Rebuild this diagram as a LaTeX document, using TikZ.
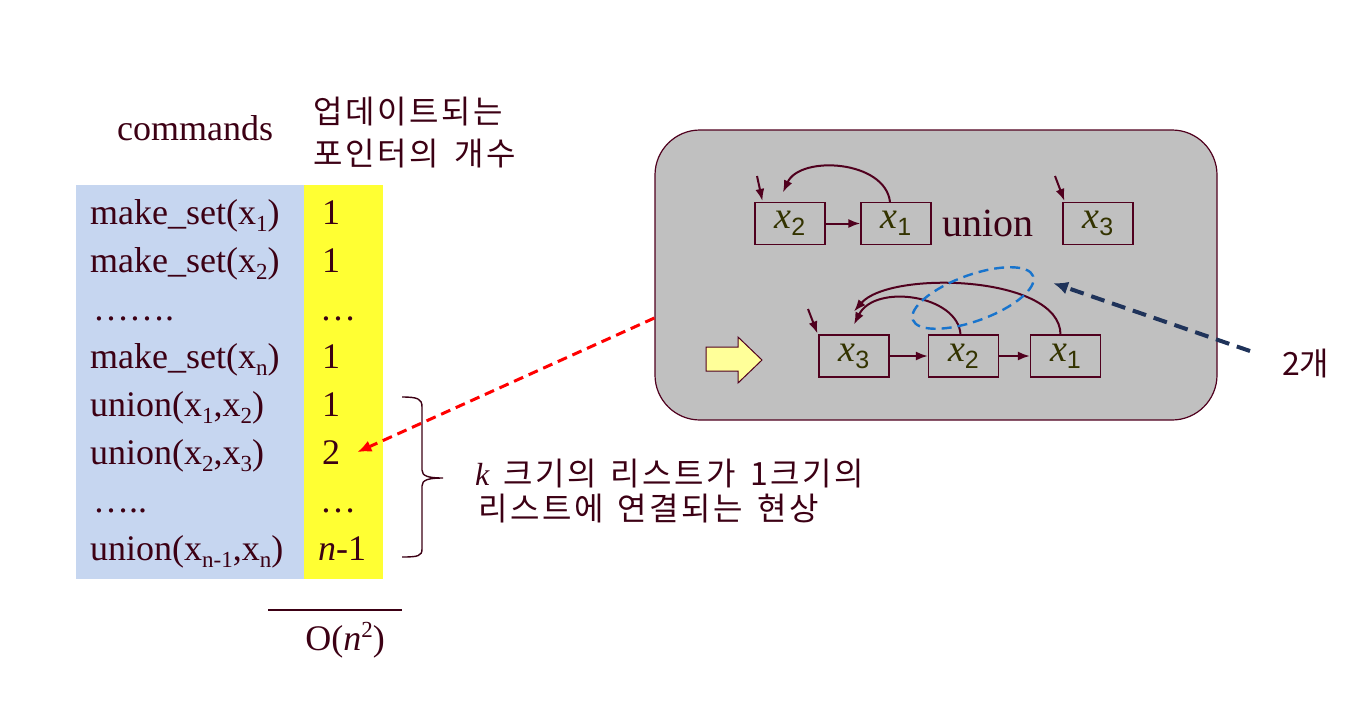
\documentclass[tikz,border=0pt]{standalone}
\usepackage{fontspec}
\setmainfont{Liberation Serif}
\newfontfamily\kor{Noto Sans CJK KR}
\newfontfamily\korw[LetterSpace=8]{Noto Sans CJK KR}
\newfontfamily\sansf{Liberation Sans}
\usetikzlibrary{arrows.meta,shapes.geometric}
\definecolor{txt}{RGB}{60,0,20}
\definecolor{arc}{RGB}{80,0,30}
\definecolor{xol}{RGB}{51,51,0}
\definecolor{tblue}{RGB}{198,214,240}
\definecolor{tyel}{RGB}{255,255,51}
\definecolor{gbg}{RGB}{192,192,192}
\definecolor{blu}{RGB}{24,116,205}
\definecolor{navy}{RGB}{31,51,90}
\definecolor{lyel}{RGB}{255,255,153}
\newcommand\fs[1]{\fontsize{#1}{#1}\selectfont}
\newcommand\sbs[1]{\raisebox{-7pt}{\fs{23}#1}}
\newcommand\xl[1]{{\fs{38}\itshape x}\raisebox{-7pt}{\sansf\fs{25}#1}}
\tikzset{
  cmd/.style={anchor=base west, inner sep=0pt, text=txt, font=\fs{36}},
  kr/.style={anchor=base west, inner sep=0pt, text=txt, font=\kor\fs{32}},
  krw/.style={anchor=base west, inner sep=0pt, text=txt, font=\korw\fs{32}},
  lbox/.style={draw=arc, line width=1.2pt, minimum width=70pt, minimum height=42pt, inner sep=0pt, text=xol},
  arr/.style={draw=arc, line width=2pt, -{Latex[length=12pt,width=9pt]}},
}
\begin{document}
\begin{tikzpicture}[x=1pt,y=-1pt]
\useasboundingbox (0,0) rectangle (1364,726);
% table
\fill[tblue] (76,185) rectangle (304,579);
\fill[tyel] (304,185) rectangle (383,579);
\node[cmd, anchor=base] (hcmd) at (195,140) {commands};
\node[krw] (h1) at (313,123) {업데이트되는};
\node[krw] (h2) at (313,165) {포인터의\hspace{16pt}개수};
\node[cmd] (c1) at (90,224) {make\_set(x\sbs{1})};
\node[cmd] (c2) at (90,272) {make\_set(x\sbs{2})};
\node[cmd] (c3) at (93,320) {…….};
\node[cmd] (c4) at (90,368) {make\_set(x\sbs{n})};
\node[cmd] (c5) at (90,416) {union(x\sbs{1},x\sbs{2})};
\node[cmd] (c6) at (90,464) {union(x\sbs{2},x\sbs{3})};
\node[cmd] (c7) at (93,512) {…..};
\node[cmd] (c8) at (90,560) {union(x\sbs{n-1},x\sbs{n})};
\node[cmd] (y1) at (322,224) {1};
\node[cmd] (y2) at (322,272) {1};
\node[cmd] (y3) at (320,320) {…};
\node[cmd] (y4) at (322,368) {1};
\node[cmd] (y5) at (322,416) {1};
\node[cmd] (y6) at (322,464) {2};
\node[cmd] (y7) at (320,512) {…};
\node[cmd] (y8) at (318,560) {\textit{n}-1};
% sum
\draw[txt, line width=1.3pt] (268,610) -- (402,610);
\node[cmd, anchor=base] (sum) at (345,650) {O(\textit{n}\raisebox{13pt}{\fs{23}2})};
% brace
\draw[txt, line width=1.4pt] (402,397) .. controls (418,397) and (422,399) .. (422,407) -- (422,470)
  .. controls (422,476) and (428,478) .. (443,478)
  .. controls (428,478) and (422,480) .. (422,486) -- (422,549)
  .. controls (422,556) and (418,557) .. (402,557);
\node[krw] (d1) at (475,485) {{\rmfamily\itshape\fs{32}k}\hspace{14pt}크기의\hspace{14pt}리스트가\hspace{14pt}1크기의};
\node[krw] (d2) at (478,520) {리스트에\hspace{14pt}연결되는\hspace{14pt}현상};
% gray panel
\node[draw=arc, fill=gbg, line width=1.2pt, rounded corners=45pt, minimum width=562pt, minimum height=290pt, inner sep=0pt] (gbox) at (936,275) {};
% top row
\node[lbox] (tx2) at (790,223.5) {\xl{2}};
\node[lbox] (tx1) at (896,223.5) {\xl{1}};
\node[anchor=base, inner sep=0pt, text=txt, font=\fs{40}] (un) at (988,236) {union};
\node[lbox] (tx3) at (1098,223.5) {\xl{3}};
\draw[arr] (tx2.east) -- (tx1.west);
\draw[arr] ([xshift=-6pt]tx1.north) .. controls (885,160) and (800,155) .. ([xshift=-7pt,yshift=9.5pt]tx2.north);
\coordinate (p1) at (757,176);
\draw[arr] (p1) -- ([xshift=8pt,yshift=1pt]tx2.north west);
\coordinate (p2) at (1055,176);
\draw[arr] (p2) -- ([xshift=2pt,yshift=1pt]tx3.north west);
% lower row
\node[lbox] (bx3) at (854,356) {\xl{3}};
\node[lbox] (bx2) at (963.5,356) {\xl{2}};
\node[lbox] (bx1) at (1065.5,356) {\xl{1}};
\draw[arr] (bx3.east) -- (bx2.west);
\draw[arr] (bx2.east) -- (bx1.west);
\draw[arr] ([xshift=-3pt]bx2.north) .. controls (958,295) and (875,283) .. ([yshift=10pt]bx3.north);
\draw[arr] ([xshift=-5pt]bx1.north) .. controls (1060,275) and (890,270) .. ([yshift=23pt]bx3.north);
\coordinate (p3) at (808,309);
\draw[arr] (p3) -- ([xshift=-1pt,yshift=1pt]bx3.north west);
% ellipse
\node[ellipse, draw=blu, dash pattern=on 10pt off 6pt, line width=2.4pt, minimum width=128pt, minimum height=46pt, inner sep=0pt, rotate=20] (ell) at (973,298) {};
% yellow block arrow
\draw[fill=lyel, draw=arc, line width=1pt] (706,347) -- (738,347) -- (738,337) -- (762,360) -- (738,383) -- (738,371) -- (706,371) -- cycle;
% 2개
\node[kr] (two) at (1282,375) {2개};
\coordinate (nvtip) at (1053,283);
\draw[navy, line width=4pt, dash pattern=on 14pt off 8pt, -{Latex[length=15pt,width=13pt]}] ([xshift=-32pt,yshift=12pt]two.west) -- (nvtip);
% red arrow
\draw[red, line width=3pt, dash pattern=on 10pt off 6pt, -{Latex[length=14pt,width=12pt]}] ([yshift=-43pt]gbox.west) -- ([xshift=17pt]y6.east);
\end{tikzpicture}
\end{document}
